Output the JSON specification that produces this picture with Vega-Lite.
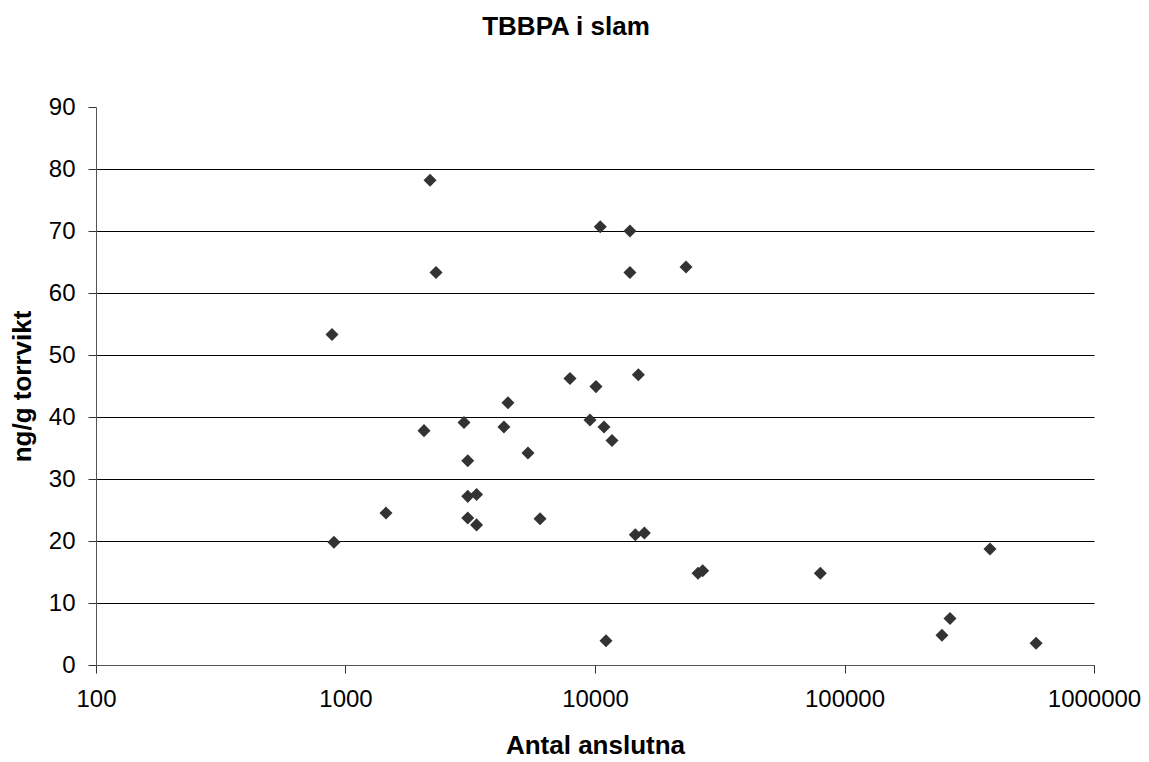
{
  "$schema": "https://vega.github.io/schema/vega-lite/v6.json",
  "autosize": {"type": "none"},
  "width": 998,
  "height": 558,
  "padding": {"left": 96, "top": 107, "right": 55, "bottom": 97},
  "background": "white",
  "title": {
    "text": "TBBPA i slam",
    "font": "Liberation Sans",
    "fontSize": 26,
    "fontWeight": "bold",
    "color": "black",
    "anchor": "middle",
    "dx": -29,
    "offset": 55
  },
  "config": {
    "view": {"stroke": null},
    "axis": {
      "labelFont": "Liberation Sans",
      "labelFontSize": 24,
      "labelColor": "black",
      "titleFont": "Liberation Sans",
      "titleFontSize": 26,
      "titleFontWeight": "bold",
      "titleColor": "black",
      "tickSize": 8,
      "tickColor": "#333333",
      "domainColor": "#555555",
      "gridColor": "black",
      "gridWidth": 1
    }
  },
  "data": {
    "values": [
      {"antal": 883, "ng": 53.3},
      {"antal": 899, "ng": 19.8},
      {"antal": 1453, "ng": 24.5},
      {"antal": 2064, "ng": 37.8},
      {"antal": 2182, "ng": 78.2},
      {"antal": 2306, "ng": 63.3},
      {"antal": 2985, "ng": 39.1},
      {"antal": 3090, "ng": 32.95},
      {"antal": 3090, "ng": 27.2},
      {"antal": 3090, "ng": 23.7},
      {"antal": 3352, "ng": 27.5},
      {"antal": 3352, "ng": 22.6},
      {"antal": 4315, "ng": 38.4},
      {"antal": 4478, "ng": 42.3},
      {"antal": 5387, "ng": 34.2},
      {"antal": 6022, "ng": 23.6},
      {"antal": 7938, "ng": 46.2},
      {"antal": 9550, "ng": 39.5},
      {"antal": 10090, "ng": 44.9},
      {"antal": 10499, "ng": 70.7},
      {"antal": 10866, "ng": 38.4},
      {"antal": 11070, "ng": 3.9},
      {"antal": 11700, "ng": 36.2},
      {"antal": 13806, "ng": 70.0},
      {"antal": 13806, "ng": 63.3},
      {"antal": 14510, "ng": 21.0},
      {"antal": 14920, "ng": 46.8},
      {"antal": 15770, "ng": 21.3},
      {"antal": 23160, "ng": 64.2},
      {"antal": 25880, "ng": 14.8},
      {"antal": 27020, "ng": 15.2},
      {"antal": 80000, "ng": 14.8},
      {"antal": 245800, "ng": 4.8},
      {"antal": 264800, "ng": 7.5},
      {"antal": 382900, "ng": 18.7},
      {"antal": 586000, "ng": 3.5}
    ]
  },
  "mark": {"type": "point", "shape": "diamond", "filled": true, "color": "#333333", "size": 170, "opacity": 1},
  "encoding": {
    "x": {
      "field": "antal",
      "type": "quantitative",
      "title": "Antal anslutna",
      "scale": {"type": "log", "domain": [100, 1000000], "nice": false},
      "axis": {
        "values": [100, 1000, 10000, 100000, 1000000],
        "format": "d",
        "grid": false,
        "labelPadding": 14,
        "titlePadding": 21,
        "labelFlush": false
      }
    },
    "y": {
      "field": "ng",
      "type": "quantitative",
      "title": "ng/g torrvikt",
      "scale": {"domain": [0, 90], "nice": false, "zero": true},
      "axis": {
        "values": [0, 10, 20, 30, 40, 50, 60, 70, 80, 90],
        "gridColor": {"condition": {"test": "datum.value === 90", "value": "transparent"}, "value": "black"},
        "labelPadding": 13,
        "titlePadding": 13
      }
    }
  }
}
